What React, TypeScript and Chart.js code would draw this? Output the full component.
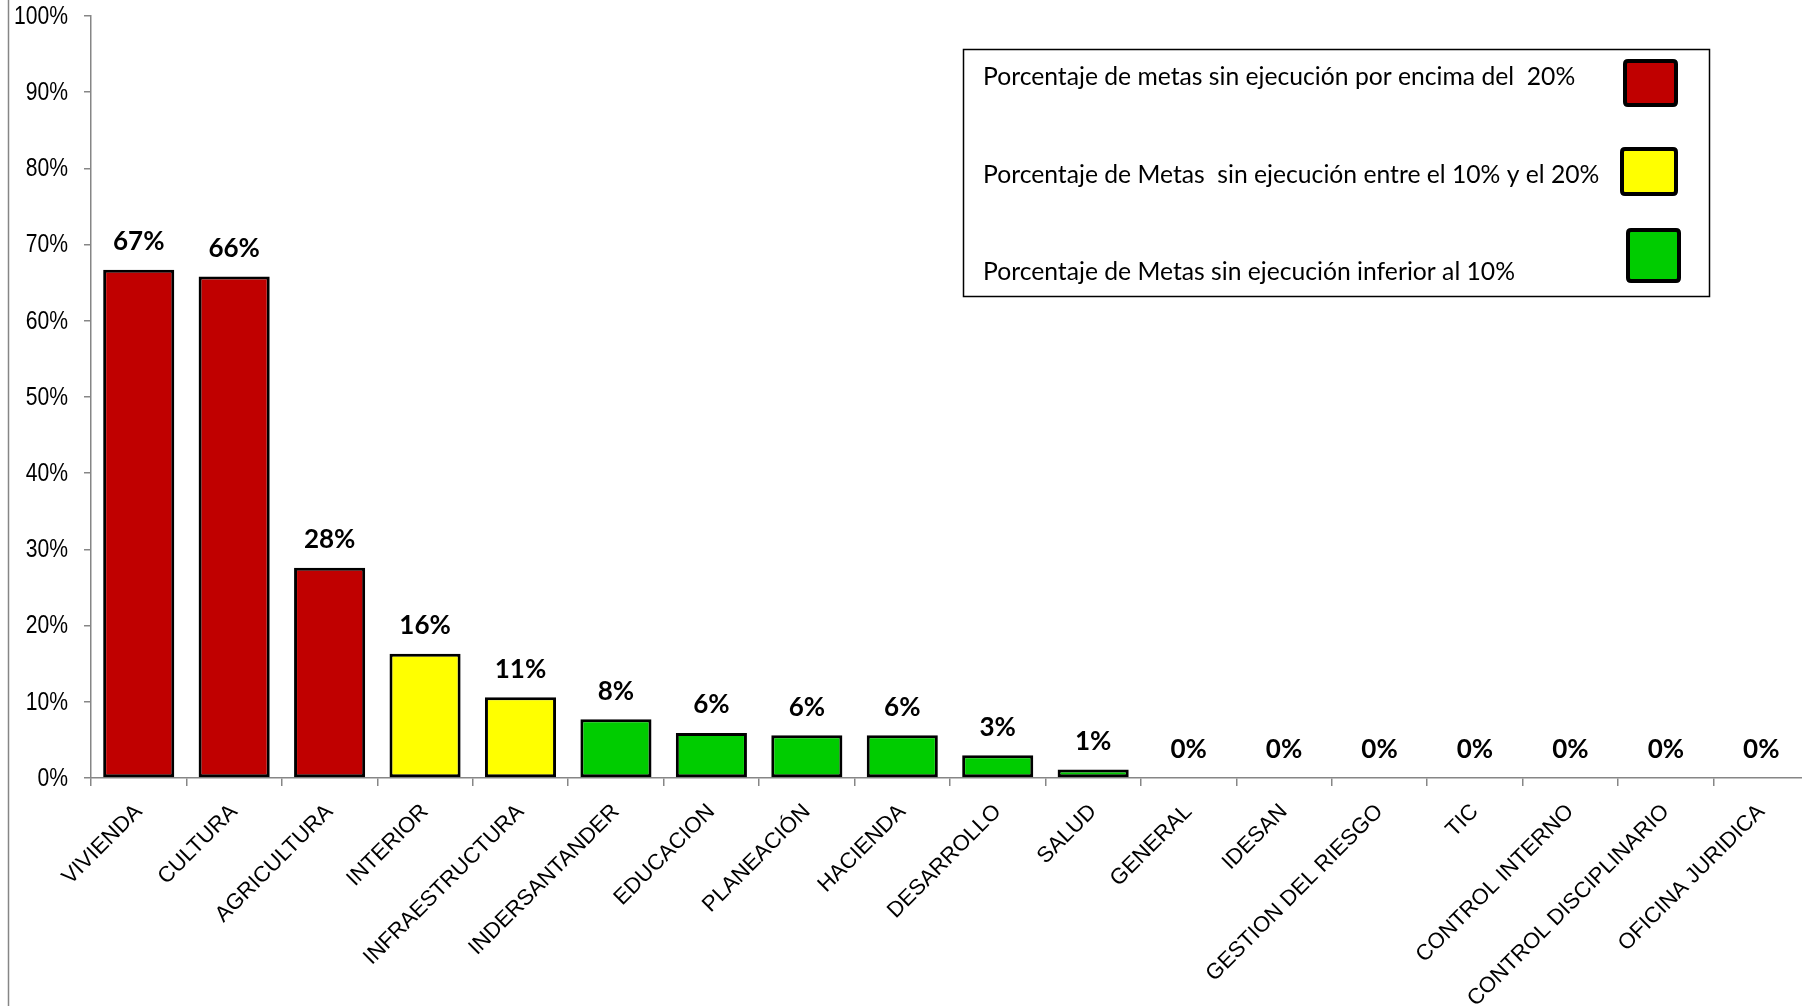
import React, { useEffect, useRef } from "react";
import { Chart, registerables } from "chart.js";

Chart.register(...registerables);

const categories: string[] = [
  "VIVIENDA",
  "CULTURA",
  "AGRICULTURA",
  "INTERIOR",
  "INFRAESTRUCTURA",
  "INDERSANTANDER",
  "EDUCACION",
  "PLANEACIÓN",
  "HACIENDA",
  "DESARROLLO",
  "SALUD",
  "GENERAL",
  "IDESAN",
  "GESTION DEL RIESGO",
  "TIC",
  "CONTROL INTERNO",
  "CONTROL DISCIPLINARIO",
  "OFICINA JURIDICA",
];

const values: number[] = [66.7, 65.8, 27.6, 16.3, 10.6, 7.7, 5.9, 5.6, 5.6, 3.0, 1.1, 0, 0, 0, 0, 0, 0, 0];

const yTickValues: number[] = [0, 10, 20, 30, 40, 50, 60, 70, 80, 90, 100];

const legendLabels: string[] = [
  "Porcentaje de metas sin ejecución por encima del  20%",
  "Porcentaje de Metas  sin ejecución entre el 10% y el 20%",
  "Porcentaje de Metas sin ejecución inferior al 10%",
];

const RED = "#C00000";
const YELLOW = "#FFFF00";
const GREEN = "#00CC00";
const legendColors: string[] = [RED, YELLOW, GREEN];

const colorFor = (v: number) => (v > 20 ? RED : v >= 10 ? YELLOW : GREEN);

const AXIS_GRAY = "#868686";

const backgroundPlugin = {
  id: "bgFrame",
  beforeDraw(chart: any) {
    const ctx = chart.ctx;
    ctx.save();
    ctx.fillStyle = "#ffffff";
    ctx.fillRect(0, 0, chart.width, chart.height);
    ctx.strokeStyle = AXIS_GRAY;
    ctx.lineWidth = 1.5;
    ctx.beginPath();
    ctx.moveTo(8.5, 0);
    ctx.lineTo(8.5, chart.height);
    ctx.stroke();
    ctx.restore();
  },
};

// Y tick labels drawn slightly condensed (like the narrow font of the original)
const yLabelPlugin = {
  id: "yLabels",
  afterDraw(chart: any) {
    const ctx = chart.ctx;
    const ys = chart.scales.y;
    ctx.save();
    ctx.font = "25px 'Liberation Sans', Arial, sans-serif";
    ctx.fillStyle = "#000";
    ctx.textAlign = "right";
    ctx.textBaseline = "middle";
    yTickValues.forEach((v) => {
      const py = ys.getPixelForValue(v);
      ctx.save();
      ctx.translate(ys.right - 23, py + 1);
      ctx.scale(0.845, 1);
      ctx.fillText(v + "%", 0, 0);
      ctx.restore();
    });
    ctx.restore();
  },
};

const valueLabelPlugin = {
  id: "valueLabels",
  afterDatasetsDraw(chart: any) {
    const ctx = chart.ctx;
    const meta = chart.getDatasetMeta(0);
    ctx.save();
    ctx.font = "bold 26px Lato, 'Open Sans', sans-serif";
    ctx.fillStyle = "#000";
    ctx.textAlign = "center";
    ctx.textBaseline = "middle";
    meta.data.forEach((bar: any, i: number) => {
      const v = values[i];
      ctx.fillText(Math.round(v) + "%", bar.x, bar.y - 28);
    });
    ctx.restore();
  },
};

const legendPlugin = {
  id: "boxLegend",
  afterDraw(chart: any) {
    const ctx = chart.ctx;
    ctx.save();
    ctx.strokeStyle = "#000";
    ctx.lineWidth = 1.5;
    ctx.strokeRect(963.5, 49.5, 746, 247);
    const rows = [
      { ty: 77, sx: 1625, sy: 61, sw: 51, sh: 44 },
      { ty: 175, sx: 1622, sy: 149, sw: 54, sh: 45 },
      { ty: 272, sx: 1628, sy: 230, sw: 51, sh: 51 },
    ];
    ctx.font = "24.7px Lato, 'Open Sans', sans-serif";
    ctx.textAlign = "left";
    ctx.textBaseline = "middle";
    rows.forEach((r, i) => {
      ctx.fillStyle = "#000";
      ctx.fillText(legendLabels[i], 983, r.ty);
      ctx.beginPath();
      const rr = 3;
      const x = r.sx, y = r.sy, w = r.sw, h = r.sh;
      ctx.moveTo(x + rr, y);
      ctx.lineTo(x + w - rr, y);
      ctx.quadraticCurveTo(x + w, y, x + w, y + rr);
      ctx.lineTo(x + w, y + h - rr);
      ctx.quadraticCurveTo(x + w, y + h, x + w - rr, y + h);
      ctx.lineTo(x + rr, y + h);
      ctx.quadraticCurveTo(x, y + h, x, y + h - rr);
      ctx.lineTo(x, y + rr);
      ctx.quadraticCurveTo(x, y, x + rr, y);
      ctx.closePath();
      ctx.fillStyle = legendColors[i];
      ctx.fill();
      ctx.lineWidth = 4;
      ctx.strokeStyle = "#000";
      ctx.stroke();
    });
    ctx.restore();
  },
};

export default function App() {
  const canvasRef = useRef<HTMLCanvasElement | null>(null);

  useEffect(() => {
    const canvas = canvasRef.current;
    if (!canvas) return;
    const chart = new Chart(canvas, {
      type: "bar",
      data: {
        labels: categories,
        datasets: [
          {
            data: values,
            backgroundColor: values.map(colorFor),
            borderColor: "#000000",
            borderWidth: values.map((v) => (v > 0 ? 3 : 0)),
            borderSkipped: false,
            barPercentage: 0.745,
            categoryPercentage: 1,
          },
        ],
      },
      options: {
        responsive: false,
        animation: false,
        devicePixelRatio: 1,
        layout: { padding: { top: 16, left: 0, right: 0, bottom: 0 } },
        plugins: {
          legend: { display: false },
          tooltip: { enabled: false },
          title: { display: false },
        },
        scales: {
          x: {
            offset: true,
            grid: {
              offset: true,
              drawOnChartArea: false,
              drawTicks: true,
              tickLength: 8,
              color: AXIS_GRAY,
              lineWidth: 1.5,
            },
            border: { display: true, color: AXIS_GRAY, width: 1.5 },
            ticks: {
              autoSkip: false,
              minRotation: 45,
              maxRotation: 45,
              padding: 13,
              color: "#000",
              font: { family: "'Liberation Sans', Arial, sans-serif", size: 22 },
            },
            afterFit: (scale: any) => {
              scale.height = 1006 - 778;
              scale.paddingLeft = 0;
              scale.paddingRight = 0;
            },
          },
          y: {
            min: 0,
            max: 100,
            grid: {
              drawOnChartArea: false,
              drawTicks: true,
              tickLength: 7,
              color: AXIS_GRAY,
              lineWidth: 1.5,
            },
            border: { display: true, color: AXIS_GRAY, width: 1.5 },
            ticks: {
              stepSize: 10,
              display: false,
            },
            afterFit: (scale: any) => {
              scale.width = 91;
              scale.paddingTop = 0;
              scale.paddingBottom = 0;
            },
          },
        },
      },
      plugins: [backgroundPlugin, valueLabelPlugin, yLabelPlugin, legendPlugin],
    });
    return () => chart.destroy();
  }, []);

  return (
    <div
      style={{
        position: "fixed",
        left: 0,
        top: 0,
        width: 1802,
        height: 1006,
        overflow: "hidden",
        background: "#fff",
      }}
    >
      <canvas ref={canvasRef} width={1809} height={1006} style={{ display: "block" }} />
    </div>
  );
}
